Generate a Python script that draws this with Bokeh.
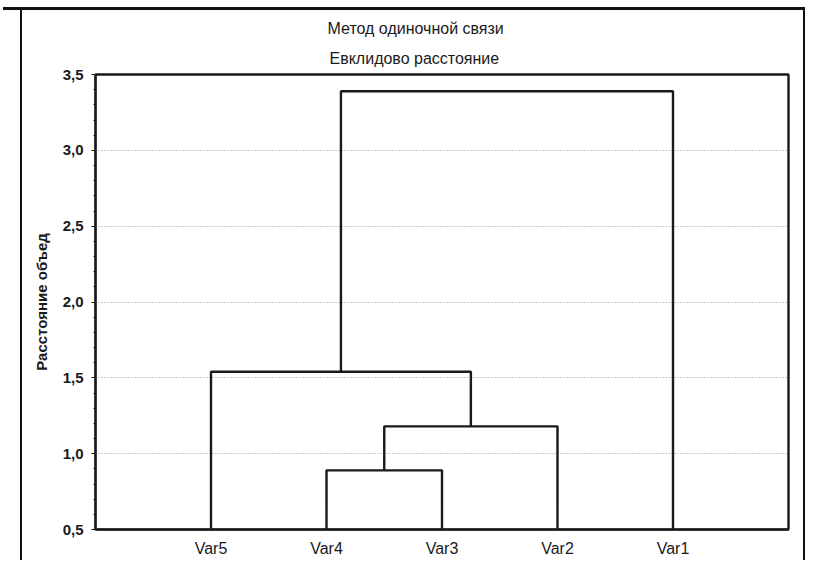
from bokeh.plotting import figure
from bokeh.models import (Title, FixedTicker, CustomJSTickFormatter, Range1d, InlineStyleSheet)
from bokeh.embed import file_html
from bokeh.resources import INLINE

# ---- data ----
leaves = ["Var5", "Var4", "Var3", "Var2", "Var1"]
# merges: (left member, right member, linkage distance)
merge_left = ["Var4", "C1", "Var5", "C3"]
merge_right = ["Var3", "Var2", "C2", "Var1"]
merge_height = [0.89, 1.18, 1.54, 3.39]
y_ticks = [0.5, 1.0, 1.5, 2.0, 2.5, 3.0, 3.5]

title_main = "Метод одиночной связи"
title_sub = "Евклидово расстояние"
y_label = "Расстояние объед"

FONT = "Liberation Sans"
INK = "#1a1a1a"

# ---- dendrogram geometry from data ----
pos = {name: float(i + 1) for i, name in enumerate(leaves)}
hgt = {name: y_ticks[0] for name in leaves}
xs, ys = [], []
for k, (a, b, h) in enumerate(zip(merge_left, merge_right, merge_height)):
    xa, xb = pos[a], pos[b]
    xs.append([xa, xa, xb, xb])
    ys.append([hgt[a], h, h, hgt[b]])
    cname = "C%d" % (k + 1)
    pos[cname] = (xa + xb) / 2.0
    hgt[cname] = h

p = figure(frame_width=693, frame_height=455, output_backend="svg", toolbar_location=None,
           x_range=Range1d(0, len(leaves) + 1), y_range=Range1d(y_ticks[0], y_ticks[-1]),
           min_border_left=95, min_border_right=18, min_border_top=74, min_border_bottom=31)
p.title.visible = False

p.multi_line(xs, ys, line_color=INK, line_width=2.4)

# titles (later added sits higher)
p.add_layout(Title(text=title_sub, align="left", text_font=FONT, text_font_size="16px",
                   text_font_style="normal", text_color=INK, offset=234, standoff=16), "above")
p.add_layout(Title(text=title_main, align="left", text_font=FONT, text_font_size="16px",
                   text_font_style="normal", text_color=INK, offset=232, standoff=6), "above")

# axes
p.xaxis.ticker = FixedTicker(ticks=[pos[n] for n in leaves])
p.xaxis.major_label_overrides = {pos[n]: n for n in leaves}
p.xaxis.major_tick_line_color = None
p.xaxis.minor_tick_line_color = None
p.xaxis.major_label_standoff = 4
p.xaxis.axis_line_width = 2
p.xaxis.axis_line_color = INK
p.xaxis.major_label_text_font_size = "16px"

p.yaxis.ticker = FixedTicker(ticks=y_ticks,
                             minor_ticks=[y_ticks[0] + 0.1 * i for i in range(31)])
p.yaxis.formatter = CustomJSTickFormatter(code="return tick.toFixed(1).replace('.', ',');")
p.yaxis.major_tick_out = 4
p.yaxis.major_tick_in = 0
p.yaxis.minor_tick_out = 2
p.yaxis.minor_tick_in = 0
p.yaxis.major_label_standoff = 8
p.yaxis.axis_line_width = 2
p.yaxis.axis_line_color = INK
p.yaxis.major_tick_line_color = INK
p.yaxis.minor_tick_line_color = INK
p.yaxis.major_label_text_font_size = "15px"
p.yaxis.major_label_text_font_style = "bold"
p.yaxis.axis_label = y_label
p.yaxis.axis_label_standoff = 10
p.yaxis.axis_label_text_font = FONT
p.yaxis.axis_label_text_font_size = "15px"
p.yaxis.axis_label_text_font_style = "bold"
p.yaxis.axis_label_text_color = INK

for ax in (p.xaxis, p.yaxis):
    ax.major_label_text_font = FONT
    ax.major_label_text_color = INK

p.xgrid.visible = False
p.ygrid.ticker = FixedTicker(ticks=y_ticks)
p.ygrid.grid_line_color = "#999999"
p.ygrid.grid_line_dash = "1 2"
p.ygrid.grid_line_width = 1

p.outline_line_color = INK
p.outline_line_width = 2.4
p.background_fill_color = "white"
p.border_fill_color = "white"

# outer window frame lines drawn as overlay pseudo-elements (no effect on layout)
frame_css = InlineStyleSheet(css="""
:host { position: relative; }
:host::before {
  content: ""; position: absolute; z-index: 10; pointer-events: none;
  left: 3px; top: 7px; width: 802px; height: 2.5px; background: #111;
}
:host::after {
  content: ""; position: absolute; z-index: 10; pointer-events: none;
  left: 19.5px; top: 7px; width: 785px; height: 553px; box-sizing: border-box;
  border-left: 2.5px solid #111; border-right: 2.5px solid #111;
}
""")
p.stylesheets = [frame_css]

open("out.html", "w").write(file_html(p, INLINE))
